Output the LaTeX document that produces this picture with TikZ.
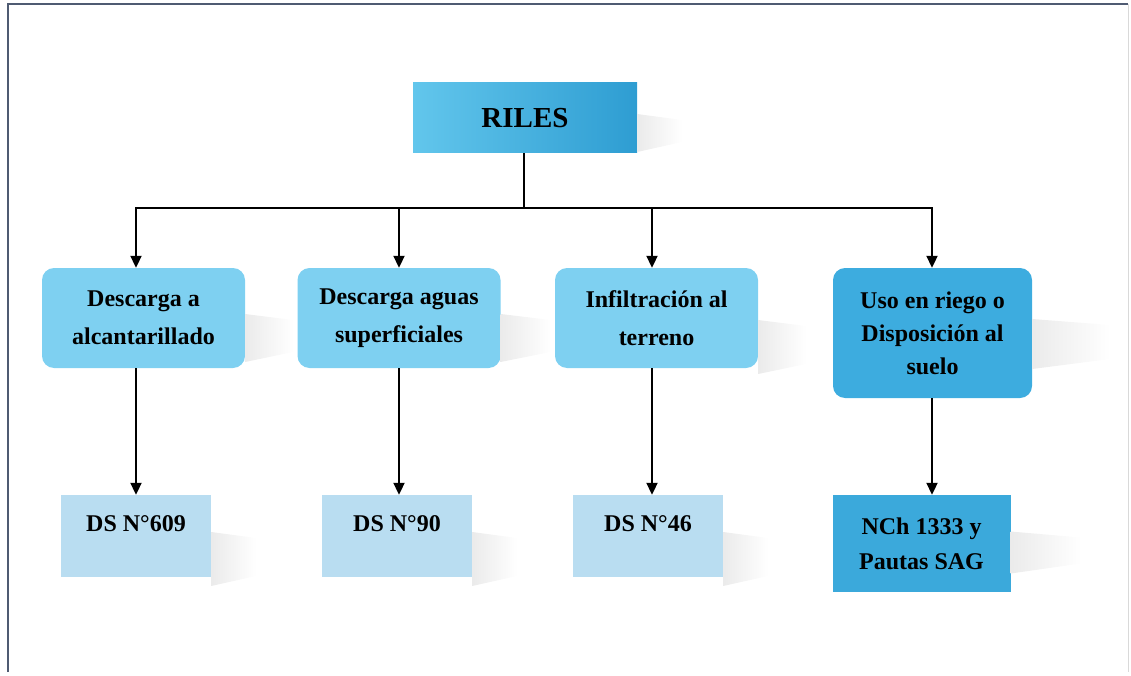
\documentclass[tikz,border=0pt]{standalone}
\usepackage{fontspec}
\setmainfont{Liberation Serif}
\usetikzlibrary{arrows.meta,calc}

\definecolor{skyA}{HTML}{7ED0F1}
\definecolor{deepA}{HTML}{3DACDF}
\definecolor{paleA}{HTML}{B9DDF1}
\definecolor{darkB}{HTML}{3BA9DB}
\definecolor{rilesL}{HTML}{62C6EC}
\definecolor{rilesR}{HTML}{2E9DD2}
\definecolor{frameC}{HTML}{4F5B72}

% soft grey shadow to the right of a box: node, depth, top offset, bottom offset
\newcommand\boxshade[4]{%
  \shade[left color=gray!16,right color=white]
    ($(#1.east)+(0,#3)$) -- ++(#2,6) -- ($(#1.east)+(#2,#4-10)$) -- ($(#1.east)+(0,#4)$) -- cycle;}

\begin{document}
\begin{tikzpicture}[x=1pt,y=-1pt,
  topbox/.style={draw=none,inner sep=0pt,minimum width=224pt,minimum height=70pt,
    left color=rilesL,right color=rilesR,font=\bfseries\fontsize{29}{34}\selectfont},
  midbox/.style={draw=none,rounded corners=12pt,fill=skyA,inner sep=0pt,
    minimum width=203pt,minimum height=100pt,align=center,
    font=\bfseries\fontsize{24}{38}\selectfont},
  darkbox/.style={midbox,fill=deepA,minimum width=199pt,minimum height=130pt,
    font=\bfseries\fontsize{24}{33}\selectfont},
  normbox/.style={draw=none,fill=paleA,inner xsep=0pt,inner ysep=0pt,
    minimum width=150pt,text height=36pt,text depth=46pt,
    font=\bfseries\fontsize{24}{28}\selectfont},
  normdark/.style={draw=none,fill=darkB,inner sep=0pt,minimum width=178pt,
    minimum height=97pt,align=center,font=\bfseries\fontsize{24}{35}\selectfont},
  link/.style={line width=2pt,black},
  arrowlink/.style={link,-{Triangle[length=12pt,width=11pt]}}]

\useasboundingbox (0,0) rectangle (1131,676);

% page frame
\draw[frameC,line width=1.4pt] (8,672) -- (8,4) -- (1128,4);
\draw[gray!30,line width=0.8pt] (1128,4) -- (1128,672);

% boxes
\node[topbox] (riles) at (525,118) {RILES};

\node[midbox] (d1) at (143.5,318) {Descarga a\\alcantarillado};
\node[midbox] (d2) at (399,318) {Descarga aguas\\superficiales};
\node[midbox] (d3) at (656.5,318) {Infiltración al\\terreno};
\node[darkbox] (d4) at (932.5,333) {Uso en riego o\\Disposición al\\suelo};

\node[normbox] (n1) at (136,536) {DS N°609};
\node[normbox] (n2) at (397,536) {DS N°90};
\node[normbox] (n3) at (648,536) {DS N°46};
\node[normdark] (n4) at (921.5,543.5) {NCh 1333 y\\Pautas SAG};

% shadows
\boxshade{riles}{45}{-4}{34}
\boxshade{d1}{48}{-4}{44}
\boxshade{d2}{50}{-4}{44}
\boxshade{d3}{48}{2}{56}
\boxshade{d4}{78}{-14}{36}
\boxshade{n1}{45}{-4}{50}
\boxshade{n2}{45}{-4}{50}
\boxshade{n3}{45}{-4}{50}
\boxshade{n4}{70}{-12}{30}

% distribution bar
\coordinate (bus) at (524,208);
\coordinate (j1) at (136,208);
\coordinate (j2) at (399,208);
\coordinate (j3) at (652,208);
\coordinate (j4) at (932,208);

\draw[link] (riles.south -| bus) -- (bus);
\draw[link,line cap=rect] (j1) -- (j4);

\draw[arrowlink] (j1) -- (j1 |- d1.north);
\draw[arrowlink] (j2) -- (j2 |- d2.north);
\draw[arrowlink] (j3) -- (j3 |- d3.north);
\draw[arrowlink] (j4) -- (j4 |- d4.north);

\draw[arrowlink] (j1 |- d1.south) -- (j1 |- n1.north);
\draw[arrowlink] (j2 |- d2.south) -- (j2 |- n2.north);
\draw[arrowlink] (j3 |- d3.south) -- (j3 |- n3.north);
\draw[arrowlink] (j4 |- d4.south) -- (j4 |- n4.north);

\end{tikzpicture}
\end{document}
